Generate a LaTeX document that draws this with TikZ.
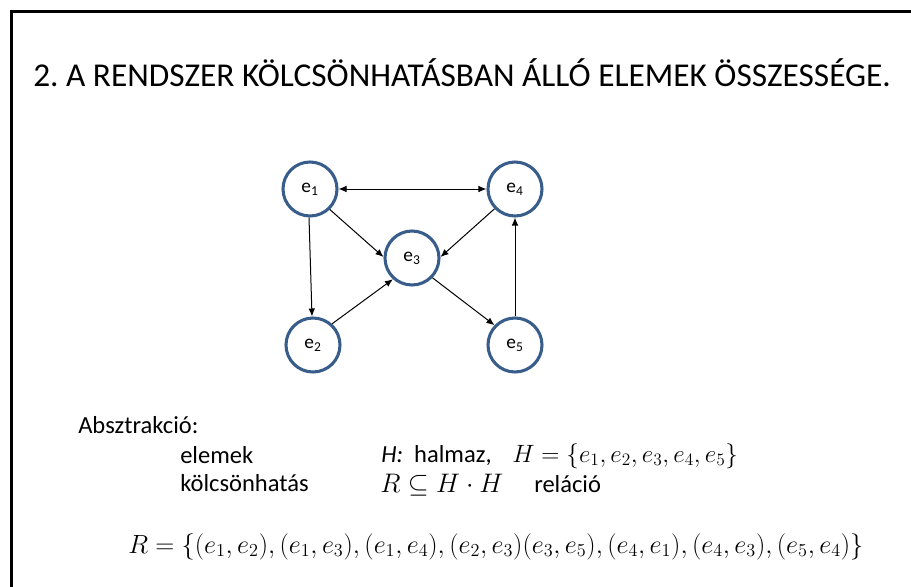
\documentclass[tikz,border=0pt]{standalone}
\usepackage{fontspec}
\usepackage{graphicx}
\setmainfont{Carlito}
\usetikzlibrary{arrows.meta}
\definecolor{nodeblue}{RGB}{56,93,138}
\frenchspacing
\tikzset{
  elem/.style={circle, draw=nodeblue, line width=2.3pt, minimum size=40.5pt, inner sep=0pt, fill=white,
    font=\fontsize{14.5}{16}\selectfont},
  arr/.style={line width=0.75pt, -{Latex[length=6pt,width=5pt]}},
  darr/.style={line width=0.75pt, {Latex[length=6pt,width=5pt]}-{Latex[length=6pt,width=5pt]}},
  txt/.style={anchor=base west, inner sep=0pt, font=\fontsize{18.4}{22}\selectfont},
  mtxt/.style={anchor=base west, inner sep=0pt, font=\fontsize{20.6}{24}\selectfont},
  ttl/.style={anchor=base west, inner sep=0pt, font=\fontsize{25}{29}\selectfont}
}
\begin{document}
\begin{tikzpicture}[x=0.75pt,y=-0.75pt]
\useasboundingbox (0,0) rectangle (911,586);
\draw[line width=2.6pt, line join=miter] (11.5,590) -- (11.5,11.5) -- (915,11.5);
\node[ttl] (title) at (33,86) {2. A RENDSZER KÖLCSÖNHATÁSBAN ÁLLÓ ELEMEK ÖSSZESSÉGE.};
% graph
\node[elem] (e1) at (310,189) {e\textsubscript{1}};
\node[elem] (e4) at (515,189) {e\textsubscript{4}};
\node[elem] (e3) at (412,258) {e\textsubscript{3}};
\node[elem] (e2) at (313,345) {e\textsubscript{2}};
\node[elem] (e5) at (515,345) {e\textsubscript{5}};
\draw[darr] (e1.east) -- (e4.west);
\draw[arr] (e1.-92) -- (e2.92);
\draw[arr] (e1.-46) -- (e3.178);
\draw[arr] (e4.224) -- (e3.2);
\draw[arr] (e2.48) -- (e3.228);
\draw[arr] (e3.-44) -- (e5.136);
\draw[arr] (e5.north) -- (e4.south);
% text
\node[txt] (abs) at (78,433) {Absztrakció:};
\node[txt] (el) at (180,463) {elemek};
\node[txt] (kh) at (180,491) {kölcsönhatás};
\node[txt] (hdef) at (381,462) {\textit{H:}\ \ halmaz,};
\node[mtxt] (hset) at (512,462) {\scalebox{0.906}{$H=\{e_1,e_2,e_3,e_4,e_5\}$}};
\node[mtxt] (rdef) at (380,492) {\scalebox{0.97}{$R\subseteq H\cdot H$}};
\node[txt] (rel) at (534,492) {reláció};
\node[mtxt] (rset) at (128,553) {\scalebox{0.952}{$R=\{(e_1,e_2),(e_1,e_3),(e_1,e_4),(e_2,e_3)(e_3,e_5),(e_4,e_1),(e_4,e_3),(e_5,e_4)\}$}};
\end{tikzpicture}
\end{document}
